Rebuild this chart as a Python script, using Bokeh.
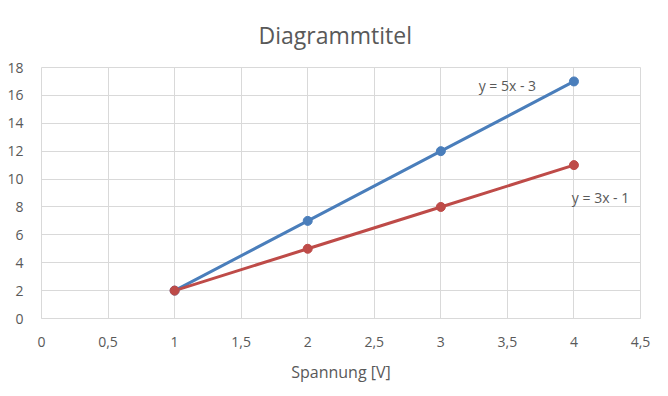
from bokeh.plotting import figure
from bokeh.models import FixedTicker, Range1d, Title
from bokeh.core.properties import value
from bokeh.embed import file_html
from bokeh.resources import INLINE

# ---- data ----
x_vals = [1, 2, 3, 4]
series_blue = [2, 7, 12, 17]
series_red = [2, 5, 8, 11]
x_ticks = [0, 0.5, 1, 1.5, 2, 2.5, 3, 3.5, 4, 4.5]
x_tick_labels = ["0", "0,5", "1", "1,5", "2", "2,5", "3", "3,5", "4", "4,5"]
y_ticks = [0, 2, 4, 6, 8, 10, 12, 14, 16, 18]
eq_labels = ["y = 5x - 3", "y = 3x - 1"]
eq_x = [3.5, 4.2]
eq_y = [16.7, 8.7]
title_text = "Diagrammtitel"
x_title = "Spannung [V]"

BLUE = "#4A7EBB"
RED = "#BE4B48"
GRID = "#D9D9D9"
TXT = "#595959"
FONT = "Open Sans"

p = figure(width=668, height=396, output_backend="svg", toolbar_location=None,
           x_range=Range1d(0, 4.5), y_range=Range1d(0, 18),
           min_border_left=41, min_border_right=28, min_border_top=67, min_border_bottom=78)
p.title = Title(text=title_text, align="left", text_font=FONT, text_font_size="23px",
                text_color=TXT, text_font_style="normal", offset=217, standoff=33)
p.outline_line_color = GRID
p.background_fill_color = "white"
p.border_fill_color = "white"

p.xaxis.ticker = FixedTicker(ticks=x_ticks)
p.xaxis.major_label_overrides = {t: l for t, l in zip(x_ticks, x_tick_labels)}
p.yaxis.ticker = FixedTicker(ticks=y_ticks)
for ax in (p.xaxis, p.yaxis):
    ax.major_tick_line_color = None
    ax.minor_tick_line_color = None
    ax.major_label_text_font = FONT
    ax.major_label_text_font_size = "14px"
    ax.major_label_text_color = TXT
p.xaxis.axis_line_color = GRID
p.yaxis.axis_line_color = None
p.xaxis.major_label_standoff = 12
p.yaxis.major_label_standoff = 12
p.xaxis.axis_label = x_title
p.xaxis.axis_label_text_font = FONT
p.xaxis.axis_label_text_font_size = "16px"
p.xaxis.axis_label_text_font_style = "normal"
p.xaxis.axis_label_text_color = TXT
p.xaxis.axis_label_standoff = 11

p.xgrid.ticker = FixedTicker(ticks=x_ticks)
p.ygrid.ticker = FixedTicker(ticks=y_ticks)
p.xgrid.grid_line_color = GRID
p.ygrid.grid_line_color = GRID

p.line(x_vals, series_blue, line_color=BLUE, line_width=3)
p.line(x_vals, series_red, line_color=RED, line_width=3)
p.scatter(x_vals, series_blue, size=9, fill_color=BLUE, line_color=BLUE)
p.scatter(x_vals, series_red, size=9, fill_color=RED, line_color=RED)

p.text(x=eq_x, y=eq_y, text=eq_labels, text_font=value(FONT), text_font_size="14px",
       text_color=TXT, text_align="center", text_baseline="middle")

open("out.html", "w").write(file_html(p, INLINE))
